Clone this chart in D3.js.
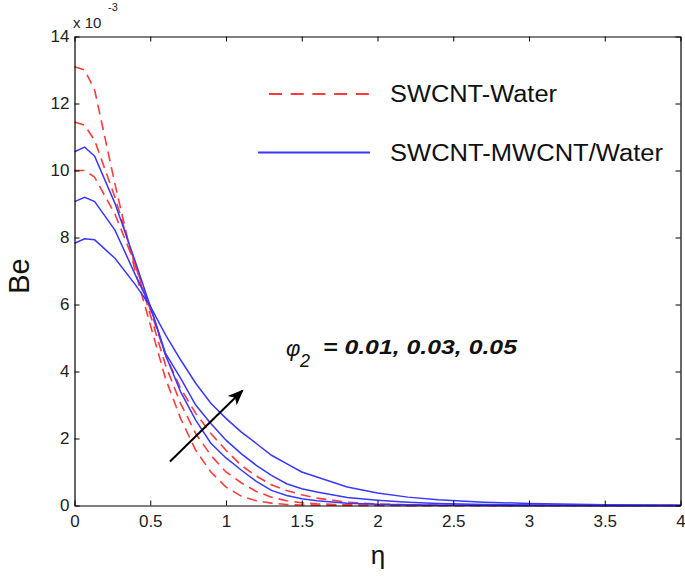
<!DOCTYPE html>
<html><head><meta charset="utf-8">
<script src="https://cdn.jsdelivr.net/npm/d3@7"></script>
<style>body{margin:0;background:#fff;} text{font-family:"Liberation Sans",Arial,sans-serif;}</style>
</head><body>
<svg id="c" width="685" height="577"></svg>
<script>
const eta = [0, 0.067, 0.133, 0.267, 0.4, 0.5, 0.6, 0.7, 0.8, 0.9, 1.0, 1.1, 1.2, 1.3, 1.4, 1.5, 1.6, 1.8, 2.0, 2.2, 2.4, 2.7, 3.0, 3.5, 4.0];
// SWCNT-Water (red dashed), values x 1e-3
const redA = [13.1, 13.0, 12.4, 9.6, 7.0, 5.4, 3.8, 2.6, 1.65, 1.0, 0.55, 0.28, 0.14, 0.07, 0.03, 0.015, 0.01, 0.004, 0, 0, 0, 0, 0, 0, 0];
const redB = [11.45, 11.35, 10.9, 9.2, 7.2, 5.7, 4.2, 3.05, 2.15, 1.5, 1.0, 0.68, 0.42, 0.25, 0.14, 0.08, 0.05, 0.02, 0.01, 0.004, 0, 0, 0, 0, 0];
const redC = [10.0, 10.0, 9.8, 8.7, 7.2, 5.85, 4.5, 3.5, 2.75, 2.15, 1.65, 1.2, 0.88, 0.62, 0.45, 0.32, 0.22, 0.1, 0.045, 0.02, 0.01, 0.004, 0, 0, 0];
// SWCNT-MWCNT/Water (blue solid)
const blueA = [10.56, 10.70, 10.43, 9.02, 7.3, 5.95, 4.5, 3.4, 2.55, 1.86, 1.42, 1.06, 0.72, 0.45, 0.3, 0.2, 0.14, 0.07, 0.035, 0.02, 0.01, 0.005, 0, 0, 0];
const blueB = [9.07, 9.20, 9.07, 8.22, 6.9, 5.95, 4.55, 3.8, 3.0, 2.45, 1.95, 1.55, 1.2, 0.9, 0.65, 0.5, 0.4, 0.24, 0.16, 0.1, 0.06, 0.03, 0.015, 0.003, 0];
const blueC = [7.83, 7.96, 7.93, 7.38, 6.6, 5.95, 5.1, 4.35, 3.65, 3.05, 2.6, 2.2, 1.85, 1.5, 1.25, 1.0, 0.85, 0.55, 0.37, 0.25, 0.17, 0.1, 0.06, 0.02, 0.008];
const xTicks = [0, 0.5, 1, 1.5, 2, 2.5, 3, 3.5, 4];
const xTickLabels = ["0", "0.5", "1", "1.5", "2", "2.5", "3", "3.5", "4"];
const yTicks = [0, 2, 4, 6, 8, 10, 12, 14];
const legendLabels = ["SWCNT-Water", "SWCNT-MWCNT/Water"];

const svg = d3.select("#c");
const x = d3.scaleLinear().domain([0, 4]).range([74.5, 680.5]);
const y = d3.scaleLinear().domain([0, 14]).range([505.5, 36.5]);
const RED = "#ff3b3b", BLUE = "#3838ff";

const line = d3.line().x((d, i) => x(eta[i])).y(d => y(d));
[redA, redB, redC].forEach(s => svg.append("path").attr("d", line(s))
  .attr("fill", "none").attr("stroke", RED).attr("stroke-width", 1.6).attr("stroke-dasharray", "10,6"));
[blueA, blueB, blueC].forEach(s => svg.append("path").attr("d", line(s))
  .attr("fill", "none").attr("stroke", BLUE).attr("stroke-width", 1.5));

// axes
const fmtX = (d, i) => xTickLabels[i];
const gB = svg.append("g").attr("transform", `translate(0,${y(0)})`)
  .call(d3.axisBottom(x).tickValues(xTicks).tickFormat(fmtX).tickSizeInner(-5).tickSizeOuter(0).tickPadding(9));
const gT = svg.append("g").attr("transform", `translate(0,${y(14)})`)
  .call(d3.axisTop(x).tickValues(xTicks).tickFormat("").tickSizeInner(-5).tickSizeOuter(0));
const gL = svg.append("g").attr("transform", `translate(${x(0)},0)`)
  .call(d3.axisLeft(y).tickValues(yTicks).tickSizeInner(-5).tickSizeOuter(0).tickPadding(5));
const gR = svg.append("g").attr("transform", `translate(${x(4)},0)`)
  .call(d3.axisRight(y).tickValues(yTicks).tickFormat("").tickSizeInner(-5).tickSizeOuter(0));
[gB, gT, gL, gR].forEach(g => {
  g.select(".domain").attr("stroke", "#000").attr("stroke-width", 1.2);
  g.selectAll(".tick line").attr("stroke", "#000");
  g.selectAll("text").attr("font-size", 17).attr("fill", "#222").attr("font-family", "Liberation Sans, Arial, sans-serif");
});

// exponent
svg.append("text").attr("x", 73).attr("y", 28).attr("font-size", 15).attr("fill", "#222").text("x 10");
svg.append("text").attr("x", 108).attr("y", 11).attr("font-size", 11).attr("fill", "#222").text("-3");

// axis labels
svg.append("text").attr("transform", "translate(28.5,276) rotate(-90)").attr("text-anchor", "middle")
  .attr("font-size", 29).attr("fill", "#111").text("Be");
svg.append("text").attr("x", 378).attr("y", 564).attr("text-anchor", "middle")
  .attr("font-size", 26).attr("fill", "#111").text("η");

// legend
svg.append("line").attr("x1", 269).attr("x2", 370).attr("y1", 94).attr("y2", 94)
  .attr("stroke", RED).attr("stroke-width", 1.8).attr("stroke-dasharray", "13,8.7");
svg.append("line").attr("x1", 258).attr("x2", 370).attr("y1", 152.5).attr("y2", 152.5)
  .attr("stroke", BLUE).attr("stroke-width", 1.8);
svg.append("text").attr("x", 390).attr("y", 102).attr("font-size", 23).attr("fill", "#111")
  .attr("textLength", 167).attr("lengthAdjust", "spacingAndGlyphs").text(legendLabels[0]);
svg.append("text").attr("x", 390).attr("y", 160.5).attr("font-size", 23).attr("fill", "#111")
  .attr("textLength", 273).attr("lengthAdjust", "spacingAndGlyphs").text(legendLabels[1]);

// annotation
svg.append("text").attr("x", 286).attr("y", 356).attr("font-size", 22).attr("font-style", "italic").attr("fill", "#111").text("φ");
svg.append("text").attr("x", 300).attr("y", 367).attr("font-size", 18).attr("font-style", "italic").attr("fill", "#111").text("2");
svg.append("text").attr("x", 323).attr("y", 353.5).attr("font-size", 21).attr("font-weight", "bold").attr("font-style", "italic")
  .attr("fill", "#111").attr("textLength", 194).attr("lengthAdjust", "spacingAndGlyphs").text("= 0.01, 0.03, 0.05");

// arrow
svg.append("defs").append("marker").attr("id", "ah").attr("viewBox", "0 0 10 10")
  .attr("refX", 9).attr("refY", 5).attr("markerWidth", 16).attr("markerHeight", 16)
  .attr("markerUnits", "userSpaceOnUse").attr("orient", "auto")
  .append("path").attr("d", "M0,1 L10,5 L0,9 L2.5,5 Z").attr("fill", "#000");
svg.append("line").attr("x1", 170).attr("y1", 461.5).attr("x2", 242.5).attr("y2", 390.5)
  .attr("stroke", "#000").attr("stroke-width", 2).attr("marker-end", "url(#ah)");
</script>
</body></html>
